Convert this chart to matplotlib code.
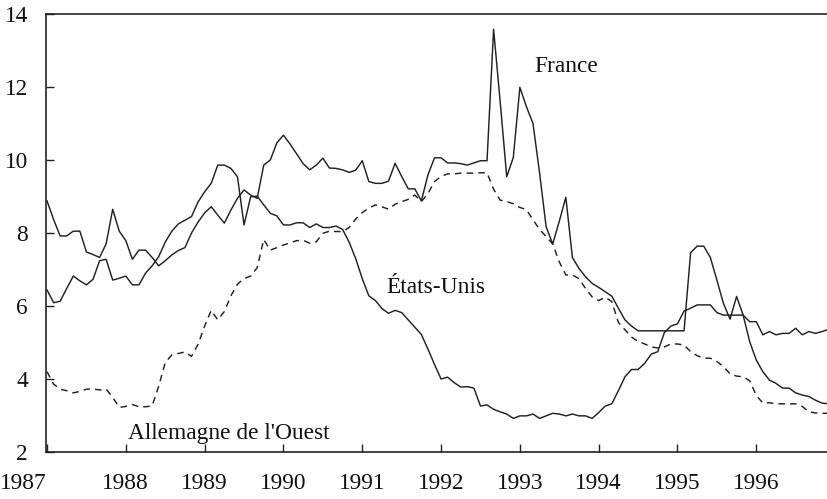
import numpy as np
import matplotlib
matplotlib.use("Agg")
import matplotlib.pyplot as plt

plt.rcParams['font.family'] = ['Liberation Serif', 'DejaVu Serif']

# Monthly short-term interest rates, Jan 1987 .. Dec 1996
start_year = 1987
france = [
    8.88, 8.37, 7.92, 7.92, 8.05, 8.05, 7.48, 7.41, 7.33, 7.70, 8.65, 8.05,
    7.79, 7.28, 7.53, 7.53, 7.33, 7.10, 7.24, 7.40, 7.52, 7.60, 8.00, 8.30,
    8.55, 8.72, 8.49, 8.27, 8.63, 8.95, 9.18, 9.04, 8.95, 9.86, 10.00, 10.47,
    10.68, 10.44, 10.17, 9.90, 9.73, 9.86, 10.05, 9.78, 9.77, 9.73, 9.66, 9.72,
    9.98, 9.41, 9.36, 9.36, 9.42, 9.91, 9.55, 9.21, 9.21, 8.88, 9.59, 10.06,
    10.06, 9.92, 9.92, 9.90, 9.86, 9.92, 9.98, 9.98, 13.58, 11.60, 9.54, 10.07,
    11.99, 11.46, 11.00, 9.65, 8.17, 7.70, 8.32, 8.98, 7.33, 7.03, 6.80, 6.62,
    6.51, 6.39, 6.27, 5.94, 5.62, 5.45, 5.32, 5.32, 5.32, 5.32, 5.32, 5.32,
    5.32, 5.32, 7.46, 7.64, 7.64, 7.33, 6.71, 6.07, 5.64, 6.26, 5.75, 5.02,
    4.52, 4.20, 3.97, 3.88, 3.75, 3.75, 3.62, 3.56, 3.52, 3.42, 3.34, 3.32,
]
etats_unis = [
    6.44, 6.09, 6.13, 6.48, 6.82, 6.69, 6.58, 6.73, 7.24, 7.28, 6.71, 6.76,
    6.82, 6.58, 6.58, 6.90, 7.10, 7.35, 7.75, 8.05, 8.25, 8.35, 8.45, 8.85,
    9.13, 9.36, 9.86, 9.86, 9.77, 9.54, 8.22, 8.99, 9.01, 8.77, 8.54, 8.47,
    8.22, 8.22, 8.28, 8.28, 8.15, 8.25, 8.15, 8.15, 8.19, 8.10, 7.75, 7.30,
    6.75, 6.28, 6.15, 5.93, 5.80, 5.88, 5.82, 5.62, 5.42, 5.22, 4.82, 4.40,
    4.00, 4.05, 3.90, 3.78, 3.79, 3.75, 3.26, 3.29, 3.17, 3.10, 3.04, 2.92,
    2.99, 2.99, 3.04, 2.92, 2.99, 3.06, 3.04, 2.99, 3.04, 2.99, 2.99, 2.92,
    3.08, 3.26, 3.32, 3.68, 4.06, 4.26, 4.26, 4.43, 4.68, 4.75, 5.27, 5.45,
    5.51, 5.86, 5.94, 6.03, 6.03, 6.03, 5.82, 5.75, 5.75, 5.75, 5.75, 5.57,
    5.57, 5.21, 5.30, 5.21, 5.25, 5.25, 5.39, 5.21, 5.30, 5.25, 5.30, 5.36,
]
allemagne = [
    4.20, 3.86, 3.72, 3.68, 3.62, 3.66, 3.72, 3.73, 3.70, 3.72, 3.50, 3.22,
    3.25, 3.30, 3.24, 3.24, 3.26, 3.80, 4.45, 4.66, 4.70, 4.74, 4.62, 4.95,
    5.45, 5.88, 5.62, 5.85, 6.28, 6.60, 6.75, 6.82, 7.05, 7.82, 7.53, 7.60,
    7.67, 7.73, 7.79, 7.80, 7.72, 7.76, 7.99, 8.05, 8.04, 8.04, 8.15, 8.38,
    8.56, 8.68, 8.77, 8.72, 8.65, 8.79, 8.86, 8.92, 9.04, 8.86, 9.08, 9.41,
    9.55, 9.62, 9.62, 9.64, 9.64, 9.64, 9.65, 9.65, 9.20, 8.90, 8.86, 8.80,
    8.70, 8.64, 8.36, 8.10, 7.90, 7.70, 7.21, 6.85, 6.85, 6.75, 6.48, 6.25,
    6.15, 6.24, 6.12, 5.55, 5.35, 5.15, 5.03, 4.96, 4.88, 4.85, 4.88, 4.96,
    4.96, 4.93, 4.75, 4.64, 4.57, 4.57, 4.48, 4.34, 4.14, 4.08, 4.06, 3.95,
    3.55, 3.34, 3.35, 3.32, 3.32, 3.32, 3.32, 3.25, 3.10, 3.07, 3.06, 3.06,
]
year_ticks = list(range(1987, 1997))
y_ticks = [2, 4, 6, 8, 10, 12, 14]
labels = {"France": (1993.18, 12.41),
          "États-Unis": (1991.30, 6.36),
          "Allemagne de l'Ouest": (1988.03, 2.35)}

x = start_year + np.arange(len(france)) / 12.0

W, H = 828, 499
fig = plt.figure(figsize=(W / 100, H / 100), dpi=100)
ax = fig.add_axes([46 / W, 1 - 452 / H, (828 - 46) / W, (452 - 14) / H])

col = '#222222'
ax.plot(x, france, color=col, lw=1.05)
ax.plot(x, etats_unis, color=col, lw=1.05)
ax.plot(x, allemagne, color=col, lw=1.05, linestyle=(0, (4.5, 3.5)))

ax.set_xlim(1986.987, 1996.91)
ax.set_ylim(2, 14)
ax.set_xticks(year_ticks)
ax.set_xticklabels([str(y) for y in year_ticks])
ax.set_yticks(y_ticks)

for s in ['left', 'bottom', 'top']:
    ax.spines[s].set_linewidth(1.2)
    ax.spines[s].set_color(col)
ax.spines['right'].set_visible(False)

fs = 16.8
ax.tick_params(axis='both', direction='in', length=6, width=1.0, colors=col,
               labelsize=fs, labelcolor='#111111')
ax.tick_params(axis='y', pad=13)
ax.tick_params(axis='x', pad=15)

# first year label sits to the left of the axis origin
first = ax.get_xticklabels()[0]
first.set_horizontalalignment('right')

for txt, (tx, ty) in labels.items():
    ax.text(tx, ty, txt, fontsize=fs, color='#111111', ha='left', va='baseline')

fig.savefig('out.png', dpi=100)
